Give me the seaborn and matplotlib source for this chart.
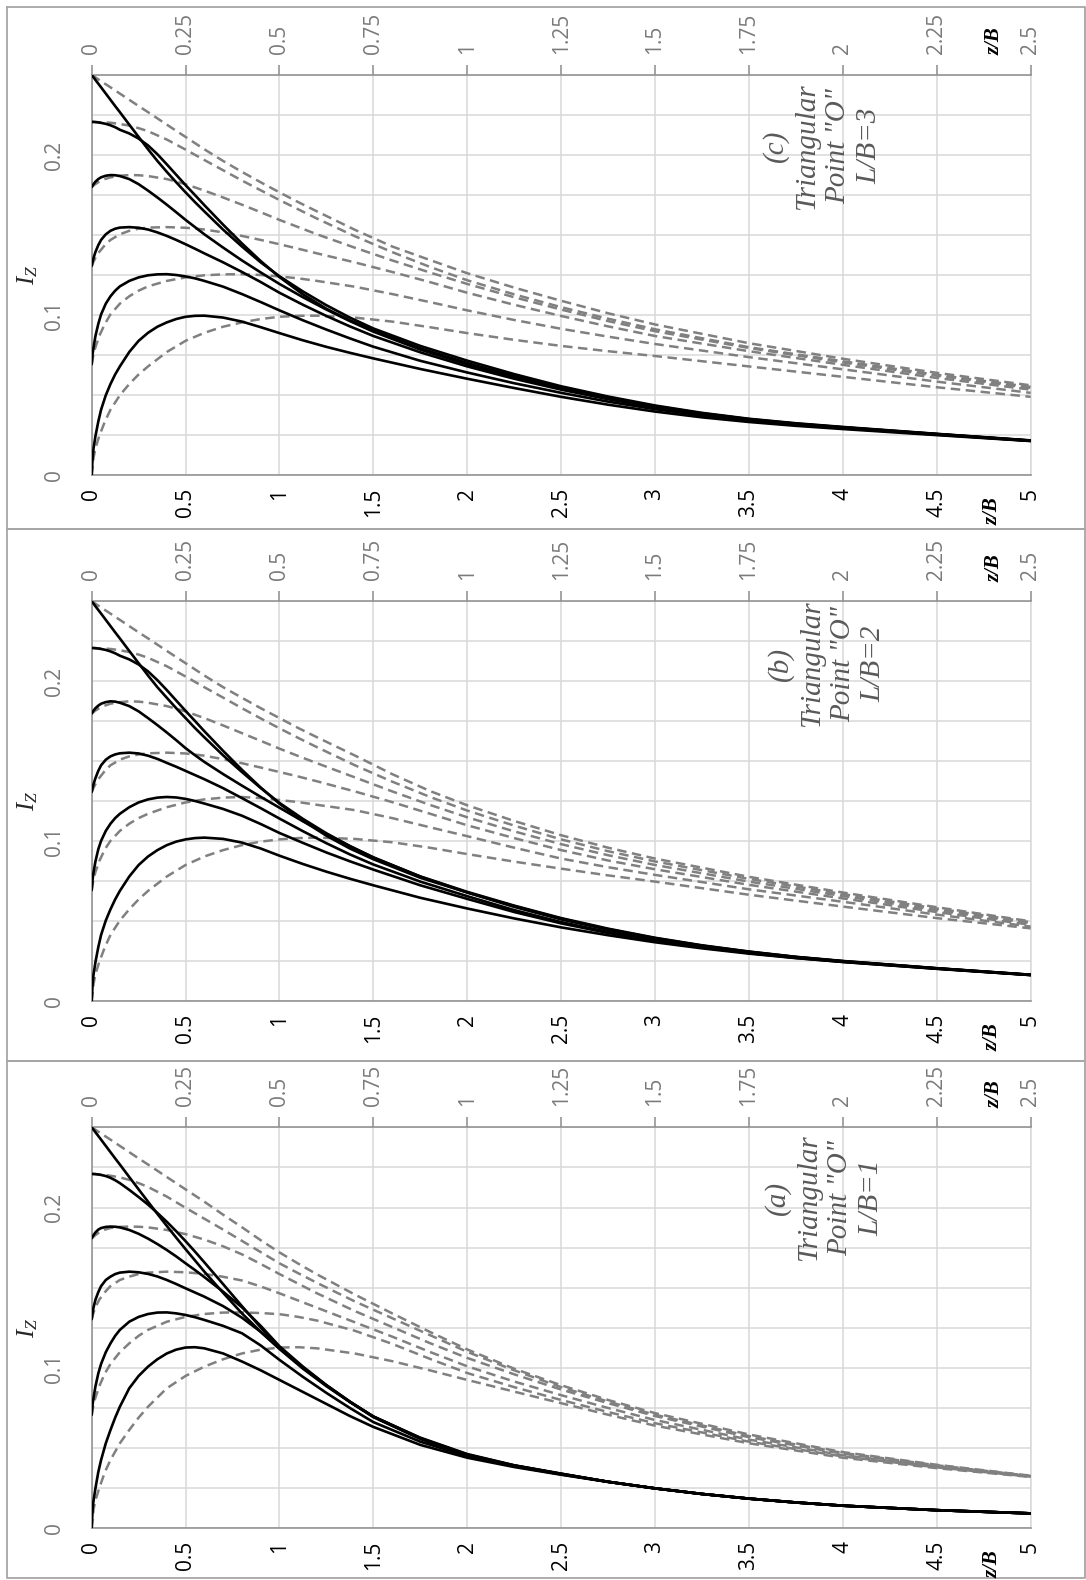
import matplotlib
matplotlib.use("Agg")
import matplotlib.pyplot as plt
import seaborn as sns
import pandas as pd
from matplotlib.lines import Line2D

# ---------------- data ----------------
z_solid = [0, 0.005, 0.01, 0.02, 0.035, 0.05, 0.075, 0.1, 0.125, 0.15, 0.2, 0.25, 0.3, 0.35, 0.4, 0.45,
           0.5, 0.55, 0.6, 0.7, 0.8, 0.9, 1.0, 1.125, 1.25, 1.375, 1.5, 1.75, 2.0, 2.25, 2.5, 2.75,
           3.0, 3.25, 3.5, 3.75, 4.0, 4.5, 5.0]
z_dash = [0, 0.005, 0.01, 0.02, 0.035, 0.05, 0.075, 0.1, 0.125, 0.15, 0.2, 0.25, 0.3, 0.35, 0.4, 0.45,
          0.5, 0.55, 0.6, 0.7, 0.8, 0.9, 1.0, 1.125, 1.25, 1.375, 1.5, 1.75, 2.0, 2.25, 2.5]

# ---- (a) L/B = 1 ----
lb1_solid_0 = [0, .012, .0175, .025, .035, .0426, .0530, .0613, .0690, .0758, .0873, .0950, .1008, .1054, .1090, .1114, .1127, .1129, .1122, .1090, .1040, .0985, .0925, .0850, .0775, .0700, .0632, .0520, .0440, .0382, .0334, .0289, .0249, .0214, .0185, .0161, .0141, .0113, .0093]
lb1_solid_1 = [.0707, .0775, .0815, .0885, .0965, .1025, .1098, .1153, .1200, .1237, .1288, .1318, .1336, .1345, .1346, .1340, .1330, .1316, .1299, .1262, .1216, .1140, .1050, .0944, .0844, .0750, .0662, .0540, .0450, .0386, .0336, .0290, .0249, .0214, .0185, .0161, .0141, .0113, .0093]
lb1_solid_2 = [.1303, .1345, .1378, .1425, .1472, .1510, .1548, .1569, .1585, .1594, .1600, .1596, .1586, .1570, .1548, .1523, .1496, .1470, .1444, .1385, .1313, .1225, .1122, .1003, .0890, .0787, .0693, .0557, .0455, .0390, .0338, .0290, .0249, .0214, .0185, .0161, .0141, .0113, .0093]
lb1_solid_3 = [.1808, .1818, .1828, .1845, .1862, .1872, .1879, .1881, .1880, .1876, .1860, .1836, .1806, .1772, .1735, .1695, .1652, .1610, .1566, .1475, .1378, .1262, .1135, .1008, .0893, .0790, .0696, .0560, .0458, .0391, .0339, .0290, .0249, .0214, .0185, .0161, .0141, .0113, .0093]
lb1_solid_4 = [.2209, .2209, .2209, .2208, .2206, .2203, .2196, .2185, .2170, .2152, .2110, .2065, .2018, .1966, .1911, .1852, .1790, .1725, .1658, .1522, .1385, .1252, .1125, .1002, .0891, .0789, .0697, .0562, .0460, .0392, .0340, .0290, .0249, .0214, .0185, .0161, .0141, .0113, .0093]
lb1_solid_5 = [.2500, .2492, .2485, .2469, .2446, .2423, .2384, .2345, .2306, .2268, .2190, .2113, .2036, .1960, .1885, .1812, .1740, .1670, .1600, .1468, .1340, .1225, .1118, .0995, .0886, .0788, .0697, .0565, .0463, .0393, .0341, .0290, .0249, .0214, .0185, .0161, .0141, .0113, .0093]

lb1_dash_0 = [0, .012, .0175, .025, .035, .0426, .0530, .0613, .0690, .0758, .0873, .0950, .1008, .1054, .1090, .1114, .1127, .1129, .1122, .1090, .1042, .0985, .0925, .0852, .0780, .0708, .0640, .0530, .0440, .0375, .0320]
lb1_dash_1 = [.0707, .0775, .0815, .0885, .0965, .1025, .1098, .1153, .1200, .1237, .1288, .1318, .1336, .1345, .1346, .1342, .1335, .1318, .1295, .1232, .1150, .1057, .0968, .0880, .0800, .0725, .0655, .0540, .0448, .0380, .0322]
lb1_dash_2 = [.1303, .1345, .1378, .1425, .1472, .1510, .1548, .1569, .1585, .1594, .1600, .1596, .1586, .1568, .1545, .1508, .1465, .1420, .1375, .1285, .1195, .1100, .1010, .0915, .0830, .0750, .0675, .0553, .0456, .0385, .0324]
lb1_dash_3 = [.1808, .1818, .1828, .1845, .1862, .1872, .1879, .1881, .1880, .1876, .1860, .1834, .1800, .1758, .1708, .1648, .1585, .1525, .1465, .1355, .1255, .1155, .1062, .0960, .0865, .0780, .0700, .0568, .0465, .0390, .0325]
lb1_dash_4 = [.2209, .2209, .2208, .2206, .2203, .2198, .2188, .2172, .2152, .2128, .2068, .1998, .1930, .1862, .1792, .1722, .1652, .1590, .1530, .1415, .1310, .1205, .1100, .0985, .0880, .0790, .0708, .0575, .0470, .0393, .0326]
lb1_dash_5 = [.2500, .2492, .2485, .2469, .2446, .2423, .2384, .2345, .2306, .2268, .2190, .2113, .2036, .1955, .1877, .1796, .1720, .1650, .1583, .1458, .1340, .1225, .1115, .0995, .0892, .0800, .0718, .0585, .0475, .0396, .0328]

# ---- (b) L/B = 2 ----
lb2_solid_0 = [0, .011, .017, .0245, .0338, .0415, .0505, .0575, .0637, .069, .078, .0852, .0905, .0945, .0976, .0998, .1012, .1020, .1023, .1015, .0992, .0955, .0910, .0858, .0810, .0766, .0725, .0647, .0580, .0518, .0462, .0413, .0369, .0331, .0298, .0270, .0246, .0203, .0164]
lb2_solid_1 = [.0694, .0765, .0808, .0875, .0950, .1003, .1065, .1110, .1145, .1172, .1213, .1243, .1262, .1273, .1277, .1274, .1265, .1252, .1236, .1202, .1160, .1108, .1052, .0990, .0930, .0875, .0823, .0725, .0640, .0558, .0487, .0427, .0378, .0336, .0301, .0271, .0246, .0204, .0164]
lb2_solid_2 = [.1308, .1335, .1358, .1395, .1440, .1475, .1510, .1531, .1543, .1550, .1554, .1549, .1535, .1515, .1490, .1466, .1440, .1414, .1388, .1332, .1270, .1207, .1142, .1063, .0988, .0918, .0855, .0748, .0657, .0570, .0495, .0433, .0382, .0339, .0304, .0273, .0248, .0205, .0165]
lb2_solid_3 = [.1798, .1808, .1817, .1832, .1848, .1860, .1870, .1875, .1873, .1866, .1845, .1812, .1770, .1726, .1680, .1632, .1582, .1538, .1496, .1420, .1348, .1278, .1210, .1125, .1045, .0970, .0900, .0780, .0680, .0590, .0512, .0447, .0392, .0346, .0308, .0276, .0250, .0206, .0165]
lb2_solid_4 = [.2208, .2208, .2208, .2207, .2205, .2202, .2196, .2187, .2175, .2160, .2137, .2105, .2062, .2007, .1945, .1880, .1815, .1752, .1688, .1565, .1447, .1336, .1235, .1128, .1035, .0955, .0888, .0772, .0680, .0595, .0517, .0451, .0395, .0348, .0310, .0277, .0251, .0206, .0166]
lb2_solid_5 = [.2500, .2492, .2485, .2469, .2446, .2423, .2384, .2345, .2306, .2268, .2190, .2113, .2036, .1963, .1897, .1832, .1770, .1708, .1650, .1537, .1433, .1333, .1240, .1140, .1050, .0970, .0898, .0780, .0684, .0598, .0520, .0454, .0397, .0350, .0311, .0278, .0252, .0207, .0166]

lb2_dash_0 = [0, .011, .017, .0245, .0338, .0415, .0505, .0575, .0637, .069, .078, .0852, .0905, .0945, .0976, .0998, .1012, .1020, .1023, .1015, .0994, .0960, .0920, .0873, .0829, .0787, .0748, .0666, .0592, .0520, .0456]
lb2_dash_1 = [.0694, .0765, .0808, .0875, .0950, .1003, .1065, .1110, .1145, .1172, .1213, .1243, .1262, .1273, .1277, .1270, .1258, .1245, .1228, .1195, .1145, .1088, .1032, .0960, .0892, .0838, .0790, .0700, .0622, .0542, .0467]
lb2_dash_2 = [.1308, .1335, .1358, .1395, .1440, .1475, .1510, .1531, .1543, .1550, .1554, .1549, .1535, .1513, .1488, .1461, .1433, .1405, .1375, .1312, .1245, .1173, .1100, .1020, .0945, .0880, .0825, .0728, .0643, .0558, .0478]
lb2_dash_3 = [.1798, .1808, .1817, .1832, .1848, .1860, .1870, .1875, .1873, .1866, .1845, .1812, .1770, .1724, .1676, .1628, .1579, .1533, .1488, .1400, .1312, .1228, .1150, .1062, .0982, .0913, .0852, .0748, .0658, .0570, .0487]
lb2_dash_4 = [.2208, .2208, .2207, .2206, .2205, .2202, .2194, .2183, .2167, .2147, .2094, .2030, .1963, .1898, .1832, .1768, .1706, .1646, .1588, .1476, .1373, .1278, .1192, .1098, .1012, .0938, .0874, .0765, .0670, .0580, .0494]
lb2_dash_5 = [.2500, .2492, .2485, .2469, .2446, .2423, .2384, .2345, .2306, .2268, .2190, .2113, .2036, .1963, .1897, .1832, .1770, .1708, .1650, .1537, .1420, .1315, .1225, .1127, .1038, .0960, .0892, .0778, .0680, .0588, .0500]

# ---- (c) L/B = 3 ----
lb3_solid_0 = [0, .011, .017, .0245, .0335, .041, .050, .057, .063, .068, .077, .084, .089, .0928, .0955, .0976, .0990, .0996, .0997, .0985, .0960, .0925, .0888, .0843, .0802, .0765, .0730, .0664, .0603, .0545, .0490, .0441, .0398, .0362, .0333, .0309, .0289, .0251, .0214]
lb3_solid_1 = [.0693, .0760, .0800, .0870, .0945, .1005, .1072, .1118, .1153, .1180, .1214, .1236, .1249, .1255, .1256, .1251, .1242, .1230, .1214, .1178, .1132, .1082, .1030, .0968, .0910, .0855, .0803, .0715, .0642, .0575, .0515, .0460, .0413, .0373, .0341, .0315, .0294, .0254, .0215]
lb3_solid_2 = [.1307, .1335, .1358, .1395, .1437, .1470, .1505, .1527, .1540, .1547, .1550, .1546, .1535, .1517, .1495, .1470, .1443, .1415, .1386, .1330, .1270, .1207, .1140, .1065, .0995, .0930, .0870, .0768, .0680, .0603, .0535, .0475, .0423, .0380, .0346, .0319, .0297, .0256, .0216]
lb3_solid_3 = [.1800, .1810, .1819, .1834, .1850, .1861, .1871, .1875, .1874, .1869, .1850, .1818, .1778, .1735, .1690, .1643, .1595, .1550, .1505, .1422, .1342, .1267, .1195, .1112, .1035, .0963, .0897, .0785, .0693, .0612, .0542, .0480, .0428, .0384, .0349, .0321, .0299, .0257, .0216]
lb3_solid_4 = [.2207, .2207, .2207, .2206, .2204, .2201, .2195, .2186, .2174, .2158, .2135, .2103, .2060, .2005, .1942, .1877, .1812, .1750, .1687, .1565, .1448, .1338, .1238, .1130, .1040, .0968, .0905, .0793, .0701, .0619, .0548, .0486, .0432, .0387, .0351, .0323, .0300, .0258, .0217]
lb3_solid_5 = [.2500, .2492, .2485, .2469, .2446, .2423, .2384, .2345, .2306, .2268, .2190, .2113, .2036, .1963, .1895, .1830, .1767, .1706, .1648, .1534, .1429, .1330, .1243, .1148, .1062, .0985, .0917, .0808, .0716, .0632, .0556, .0492, .0436, .0390, .0353, .0325, .0302, .0259, .0218]

lb3_dash_0 = [0, .011, .017, .0245, .0335, .041, .050, .057, .063, .068, .077, .084, .089, .0928, .0955, .0976, .0990, .0996, .0997, .0985, .0960, .0925, .0888, .0846, .0808, .0775, .0745, .0680, .0615, .0550, .0490]
lb3_dash_1 = [.0693, .0760, .0800, .0870, .0945, .1005, .1072, .1118, .1153, .1180, .1214, .1236, .1249, .1255, .1256, .1251, .1242, .1230, .1214, .1178, .1132, .1082, .1030, .0970, .0915, .0866, .0820, .0738, .0662, .0585, .0515]
lb3_dash_2 = [.1307, .1335, .1358, .1395, .1437, .1470, .1505, .1527, .1540, .1547, .1550, .1546, .1535, .1517, .1495, .1470, .1443, .1415, .1386, .1330, .1270, .1207, .1140, .1065, .0995, .0930, .0870, .0775, .0690, .0608, .0535]
lb3_dash_3 = [.1800, .1810, .1819, .1834, .1850, .1861, .1871, .1875, .1874, .1869, .1850, .1818, .1778, .1735, .1690, .1643, .1595, .1550, .1505, .1422, .1342, .1267, .1195, .1112, .1035, .0963, .0900, .0795, .0705, .0622, .0545]
lb3_dash_4 = [.2207, .2207, .2206, .2205, .2204, .2202, .2194, .2184, .2168, .2149, .2097, .2034, .1969, .1905, .1841, .1780, .1719, .1661, .1603, .1494, .1394, .1302, .1218, .1130, .1050, .0978, .0912, .0800, .0712, .0628, .0552]
lb3_dash_5 = [.2500, .2492, .2485, .2469, .2446, .2423, .2384, .2345, .2306, .2268, .2190, .2113, .2036, .1963, .1895, .1830, .1767, .1706, .1648, .1534, .1429, .1345, .1262, .1172, .1090, .1012, .0942, .0825, .0728, .0640, .0562]

bottom_ticks = [0, 0.5, 1, 1.5, 2, 2.5, 3, 3.5, 4, 4.5, 5]
bottom_labels = ["0", "0.5", "1", "1.5", "2", "2.5", "3", "3.5", "4", "4.5", "5"]
top_ticks = [0, 0.25, 0.5, 0.75, 1, 1.25, 1.5, 1.75, 2, 2.25, 2.5]
top_labels = ["0", "0.25", "0.5", "0.75", "1", "1.25", "1.5", "1.75", "2", "2.25", "2.5"]
y_ticks = [0, 0.025, 0.05, 0.075, 0.1, 0.125, 0.15, 0.175, 0.2, 0.225, 0.25]
y_labels = ["0", "", "", "", "0.1", "", "", "", "0.2", "", ""]

panel_tags = ["(a)", "(b)", "(c)"]
panel_lb = ["L/B=1", "L/B=2", "L/B=3"]

# ---------------- style ----------------
sns.set_style("white")
plt.rcParams["font.family"] = ["Open Sans", "DejaVu Sans"]
plt.rcParams["mathtext.fontset"] = "custom"
plt.rcParams["mathtext.it"] = "Liberation Serif:italic"
plt.rcParams["mathtext.rm"] = "Liberation Serif"

W, H = 1086, 1580
fig = plt.figure(figsize=(W / 100, H / 100), dpi=100)
fig.patch.set_facecolor("white")

GRID = "#d9d9d9"
SPINE = "#8c8c8c"
LABEL_GRAY = "#7a7a7a"
TXT_GRAY = "#595959"
SERIF = ["Liberation Serif", "DejaVu Serif"]


def px_rect(x0, y_top, x1, y_bot):
    return [x0 / W, 1 - y_bot / H, (x1 - x0) / W, (y_bot - y_top) / H]


def long_frame(zs, curves):
    return pd.concat([pd.DataFrame({"z": zs, "Iz": c, "curve": k})
                      for k, c in enumerate(curves)], ignore_index=True)


panels = [
    dict(solid=[lb1_solid_0, lb1_solid_1, lb1_solid_2, lb1_solid_3, lb1_solid_4, lb1_solid_5],
         dash=[lb1_dash_0, lb1_dash_1, lb1_dash_2, lb1_dash_3, lb1_dash_4, lb1_dash_5],
         box=(91.7, 1127.3, 1030.6, 1528.3), frame=(7, 1060.5, 1085, 1578), txt=(3.90, 0.206)),
    dict(solid=[lb2_solid_0, lb2_solid_1, lb2_solid_2, lb2_solid_3, lb2_solid_4, lb2_solid_5],
         dash=[lb2_dash_0, lb2_dash_1, lb2_dash_2, lb2_dash_3, lb2_dash_4, lb2_dash_5],
         box=(91.7, 601.3, 1030.6, 1001.3), frame=(7, 529, 1085, 1060.5), txt=(3.915, 0.211)),
    dict(solid=[lb3_solid_0, lb3_solid_1, lb3_solid_2, lb3_solid_3, lb3_solid_4, lb3_solid_5],
         dash=[lb3_dash_0, lb3_dash_1, lb3_dash_2, lb3_dash_3, lb3_dash_4, lb3_dash_5],
         box=(91.7, 75.0, 1030.6, 475.3), frame=(7, 7.4, 1085, 529), txt=(3.89, 0.2055)),
]

for i, p in enumerate(panels):
    x0, yt, x1, yb = p["box"]
    df_solid = long_frame(z_solid, p["solid"])
    df_dash = long_frame(z_dash, p["dash"])

    # base axes: grid, spines, primary (bottom) ticks
    ax = fig.add_axes(px_rect(x0, yt, x1, yb))
    ax.set_xlim(0, 5)
    ax.set_ylim(0, 0.25)
    ax.set_xticks(bottom_ticks)
    ax.set_xticklabels(bottom_labels, rotation=90, color="black", fontsize=15)
    ax.set_yticks(y_ticks)
    ax.set_yticklabels(y_labels, rotation=90, va="center", color=LABEL_GRAY, fontsize=15)
    ax.grid(True, color=GRID, lw=1.1)
    ax.set_axisbelow(True)
    ax.tick_params(axis="x", length=0, pad=9)
    ax.tick_params(axis="y", length=2, color=SPINE, pad=17)
    for s in ["left", "bottom", "top"]:
        ax.spines[s].set_color(SPINE)
        ax.spines[s].set_linewidth(1.1)
    ax.spines["right"].set_color(GRID)
    ax.spines["right"].set_linewidth(1.1)

    # secondary (top) axis carrying the dashed curves
    ax2 = ax.twiny()
    ax2.set_xlim(0, 2.5)
    ax2.set_xticks(top_ticks)
    ax2.set_xticklabels(top_labels, rotation=90, color=LABEL_GRAY, fontsize=15)
    ax2.tick_params(axis="x", length=7, width=1.1, color=SPINE, pad=8)
    for s in ax2.spines.values():
        s.set_visible(False)
    sns.lineplot(data=df_dash, x="z", y="Iz", units="curve", estimator=None, sort=False,
                 ax=ax2, color="#808080", lw=1.8, linestyle=(0, (3.8, 2.2)), legend=False)
    ax2.set_xlim(0, 2.5)
    ax2.set_xlabel("")
    ax2.set_ylabel("")

    # solid curves on the primary scale, drawn on top
    ax3 = fig.add_axes(px_rect(x0, yt, x1, yb), sharex=ax, sharey=ax)
    ax3.patch.set_visible(False)
    sns.lineplot(data=df_solid, x="z", y="Iz", units="curve", estimator=None, sort=False,
                 ax=ax3, color="black", lw=1.9, legend=False)
    ax3.set_xlim(0, 5)
    ax3.set_ylim(0, 0.25)
    ax3.axis("off")
    ax.set_xlabel("")
    ax.set_ylabel("")

    # panel annotation
    ax3.text(p["txt"][0], p["txt"][1],
             panel_tags[i] + "\nTriangular\nPoint \"O\"\n" + panel_lb[i],
             rotation=90, ha="center", va="center", multialignment="center",
             family=SERIF, style="italic", color=TXT_GRAY, fontsize=21, linespacing=1.25)

    # axis titles
    ymid = (yt + yb) / 2
    fig.text(28 / W, 1 - ymid / H, r"$I_Z$", rotation=90, ha="center", va="center",
             fontsize=18, color="#262626")
    fig.text(994.6 / W, 1 - (yt - 33.4) / H, "z/B", rotation=90, ha="center", va="center",
             family=SERIF, style="italic", weight="bold", fontsize=15, color="black")
    fig.text(993 / W, 1 - (yb + 35.7) / H, "z/B", rotation=90, ha="center", va="center",
             family=SERIF, style="italic", weight="bold", fontsize=15, color="black")

    # panel frame
    fx0, fyt, fx1, fyb = p["frame"]
    xs = [fx0 / W, fx1 / W, fx1 / W, fx0 / W, fx0 / W]
    ys = [1 - fyt / H, 1 - fyt / H, 1 - fyb / H, 1 - fyb / H, 1 - fyt / H]
    fig.add_artist(Line2D(xs, ys, color="#a6a6a6", lw=1.3))

fig.savefig("out.png", dpi=100)
